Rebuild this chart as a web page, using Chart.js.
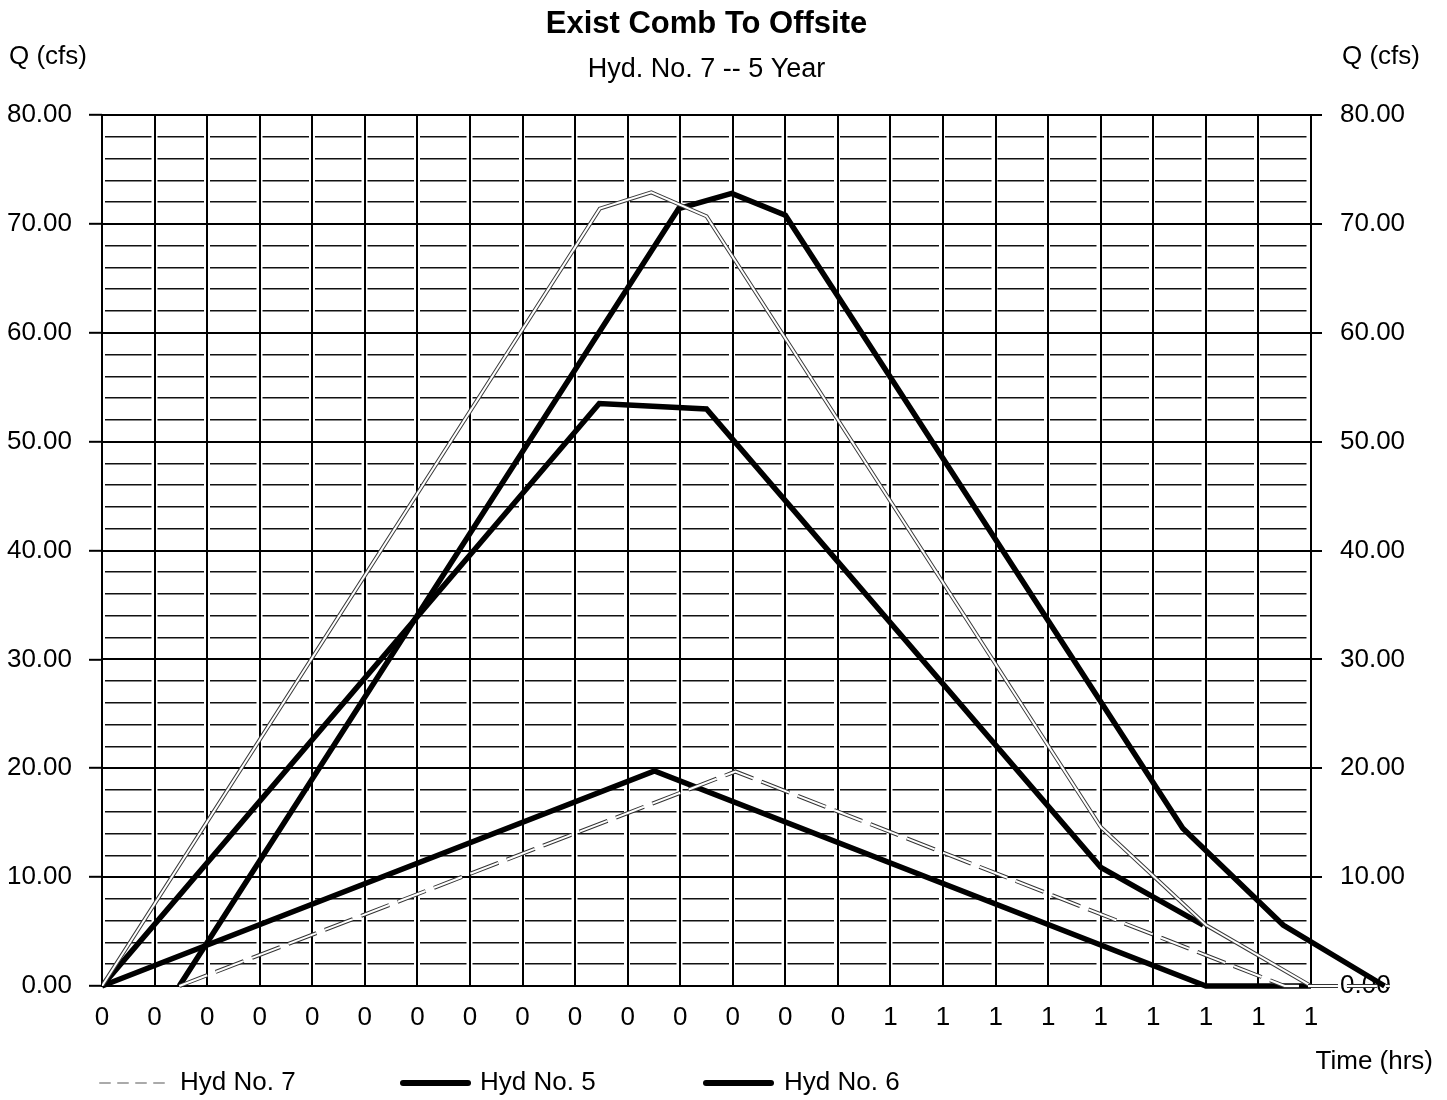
<!DOCTYPE html>
<html><head><meta charset="utf-8">
<script src="https://cdn.jsdelivr.net/npm/chart.js@4/dist/chart.umd.min.js"></script>
<style>html,body{margin:0;padding:0;background:#fff}#wrap{width:1447px;height:1100px;position:relative}</style>
</head><body><div id="wrap"><canvas id="c" width="1447" height="1100"></canvas></div>
<script>
// ---- texts ----
const titleText = 'Exist Comb To Offsite';
const subtitleText = 'Hyd. No. 7 -- 5 Year';
const yUnitLabel = 'Q (cfs)';
const xUnitLabel = 'Time (hrs)';
const legendNames = ['Hyd No. 7', 'Hyd No. 5', 'Hyd No. 6'];

// ---- tick labels ----
const xTickLabels = ['0','0','0','0','0','0','0','0','0','0','0','0','0','0','0','1','1','1','1','1','1','1','1','1'];
const yMajorTicks = [0, 10, 20, 30, 40, 50, 60, 70, 80];

// ---- series (time in x-axis gridline steps, flow in cfs) ----
const hyd7Time = [0, 9.47, 10.45, 11.5, 19.0, 21.0, 23.0];
const hyd7Flow = [0, 71.4, 72.9, 70.7, 14.6, 5.6, 0];
const hyd7LagTime = [1.47, 10.97, 11.98, 13.0, 20.56, 22.47, 24.4];
const hyd7LagFlow = [0, 71.4, 72.8, 70.8, 14.5, 5.6, 0];
const hyd5Time = [0, 9.46, 11.5, 19.0, 20.95];
const hyd5Flow = [0, 53.5, 53.0, 10.9, 5.6];
const hyd6Time = [0, 10.51, 21.0, 23.0];
const hyd6Flow = [0, 19.75, 0, 0];
const hyd6LagTime = [1.47, 12.05, 22.5, 24.5];
const hyd6LagFlow = [0, 19.7, 0, 0];

const pts = (t, f) => t.map((x, i) => ({ x: x, y: f[i] }));
const FONT = 'Liberation Sans';

const base = { tension: 0, pointRadius: 0, pointHoverRadius: 0, fill: false, borderJoinStyle: 'miter', borderCapStyle: 'butt' };

const datasets = [
  Object.assign({}, base, { label: 'Hyd No. 5', data: pts(hyd5Time, hyd5Flow), borderColor: '#000', borderWidth: 5.5, order: 10 }),
  Object.assign({}, base, { label: 'Hyd No. 7 (lagged)', data: pts(hyd7LagTime, hyd7LagFlow), borderColor: '#000', borderWidth: 5.5, order: 10, clip: false }),
  Object.assign({}, base, { label: 'Hyd No. 6', data: pts(hyd6Time, hyd6Flow), borderColor: '#000', borderWidth: 5.5, order: 10, clip: false }),
  Object.assign({}, base, { label: 'Hyd No. 7 edge', data: pts(hyd7Time, hyd7Flow), borderColor: '#3a3a3a', borderWidth: 4, order: 4 }),
  Object.assign({}, base, { label: 'Hyd No. 7', data: pts(hyd7Time, hyd7Flow), borderColor: '#ffffff', borderWidth: 2, order: 3 }),
  Object.assign({}, base, { label: 'Hyd No. 6 (lagged) edge', data: pts(hyd6LagTime, hyd6LagFlow), borderColor: '#333', borderWidth: 4, borderDash: [30, 9], order: 2, clip: false }),
  Object.assign({}, base, { label: 'Hyd No. 6 (lagged)', data: pts(hyd6LagTime, hyd6LagFlow), borderColor: '#ffffff', borderWidth: 2, borderDash: [30, 9], order: 1, clip: false })
];

const decor = {
  id: 'decor',
  afterDraw(chart) {
    const ctx = chart.ctx;
    ctx.save();
    ctx.fillStyle = '#000';
    ctx.font = '26px "' + FONT + '"';
    ctx.textBaseline = 'middle';
    ctx.textAlign = 'left';
    ctx.fillText(yUnitLabel, 9, 57);
    ctx.fillText(yUnitLabel, 1342, 57);
    ctx.textAlign = 'right';
    ctx.fillText(xUnitLabel, 1433, 1062);
    // legend
    const ly = 1083;
    const items = [
      { sx: 100, tx: 180, color: '#aaa', w: 2, dash: [10, 8] },
      { sx: 403, tx: 480, color: '#000', w: 6, dash: [] },
      { sx: 706, tx: 784, color: '#000', w: 6, dash: [] }
    ];
    items.forEach((it, i) => {
      ctx.beginPath();
      ctx.setLineDash(it.dash);
      ctx.lineWidth = it.w;
      ctx.strokeStyle = it.color;
      ctx.lineCap = 'round';
      ctx.moveTo(it.sx, ly);
      ctx.lineTo(it.sx + 65, ly);
      ctx.stroke();
      ctx.setLineDash([]);
      ctx.textAlign = 'left';
      ctx.fillStyle = '#000';
      ctx.fillText(legendNames[i], it.tx, ly);
    });
    ctx.restore();
  }
};

const tickFont = { family: FONT, size: 26 };

new Chart(document.getElementById('c'), {
  type: 'line',
  data: { datasets: datasets },
  options: {
    responsive: false,
    animation: false,
    devicePixelRatio: 1,
    layout: { padding: { left: 0, right: 0, top: 0, bottom: 64 } },
    plugins: {
      legend: { display: false },
      tooltip: { enabled: false },
      title: { display: true, text: titleText, fullSize: false, color: '#000',
               font: { family: FONT, size: 31, weight: 'bold' }, padding: { top: 5.4, bottom: 11.2 } },
      subtitle: { display: true, text: subtitleText, fullSize: false, color: '#000',
                  font: { family: FONT, size: 27 }, padding: { top: 0, bottom: 28.8 } }
    },
    scales: {
      x: {
        type: 'linear', position: 'bottom', min: 0, max: 23,
        afterFit(s) { s.height = 50; },
        ticks: { stepSize: 1, autoSkip: false, maxRotation: 0, padding: 16, color: '#000', font: tickFont,
                 callback: (v, i) => xTickLabels[i] },
        grid: { color: '#000', lineWidth: 2, drawTicks: false },
        border: { display: true, color: '#000', width: 2 }
      },
      y: {
        type: 'linear', position: 'left', min: 0, max: 80,
        afterFit(s) { s.width = 102; },
        ticks: { stepSize: 2, autoSkip: false, padding: 17, color: '#000', font: tickFont,
                 callback: (v) => yMajorTicks.includes(v) ? v.toFixed(2) : '' },
        grid: {
          color: (c) => (c.tick && c.tick.value % 10 === 0) ? 'rgba(0,0,0,0)' : '#111',
          lineWidth: 1.6,
          tickLength: 13,
          tickWidth: 2,
          tickColor: (c) => (c.tick && c.tick.value % 10 === 0) ? '#000' : 'rgba(0,0,0,0)'
        },
        border: { display: false, dash: [46.5, 6], dashOffset: 49.5 }
      },
      y2: {
        type: 'linear', position: 'right', min: 0, max: 80,
        afterFit(s) { s.width = 136; },
        ticks: { stepSize: 10, autoSkip: false, padding: 18, color: '#000', font: tickFont,
                 callback: (v) => yMajorTicks.includes(v) ? v.toFixed(2) : '' },
        grid: { drawOnChartArea: true, color: '#000', lineWidth: 2, tickLength: 11, tickWidth: 2, tickColor: '#000' },
        border: { display: true, color: '#000', width: 2 }
      }
    }
  },
  plugins: [decor]
});
</script>
</body></html>
